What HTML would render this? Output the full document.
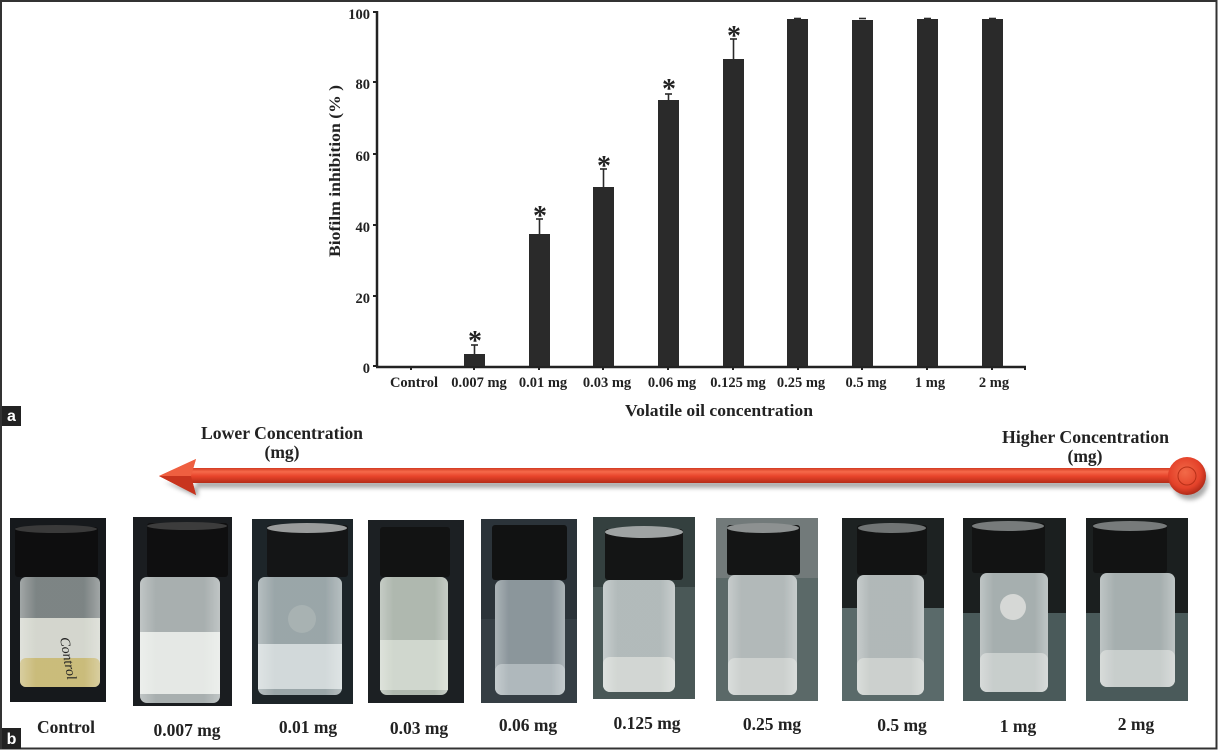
<!DOCTYPE html>
<html><head><meta charset="utf-8"><style>
html,body{margin:0;padding:0;background:#fff;}
svg{display:block;}
text{font-family:"Liberation Serif","Times New Roman",serif;font-weight:bold;fill:#222;}
</style></head><body>
<svg width="1218" height="750" viewBox="0 0 1218 750" xmlns="http://www.w3.org/2000/svg">
<defs>
<linearGradient id="shaft" x1="0" y1="0" x2="0" y2="1">
<stop offset="0" stop-color="#d23a22"/><stop offset="0.25" stop-color="#f5694a"/><stop offset="0.55" stop-color="#e8442a"/><stop offset="1" stop-color="#b42c18"/>
</linearGradient>
<linearGradient id="head" x1="0" y1="0" x2="0" y2="1">
<stop offset="0" stop-color="#f06a48"/><stop offset="0.5" stop-color="#e8442a"/><stop offset="1" stop-color="#b02a16"/>
</linearGradient>
<radialGradient id="ball" cx="0.45" cy="0.4" r="0.6">
<stop offset="0" stop-color="#f26a48"/><stop offset="0.7" stop-color="#e4422a"/><stop offset="1" stop-color="#b02a18"/>
</radialGradient>
<filter id="sh" x="-0.1" y="-0.5" width="1.2" height="2"><feGaussianBlur stdDeviation="2"/></filter>
<linearGradient id="glass" x1="0" y1="0" x2="1" y2="0">
<stop offset="0" stop-color="#fff" stop-opacity="0.35"/><stop offset="0.2" stop-color="#fff" stop-opacity="0.1"/><stop offset="0.8" stop-color="#fff" stop-opacity="0.1"/><stop offset="1" stop-color="#fff" stop-opacity="0.35"/>
</linearGradient>
</defs>

<!-- frame -->
<rect x="1" y="1" width="1215.5" height="747.5" fill="none" stroke="#333" stroke-width="2"/>

<!-- ============ CHART ============ -->
<g stroke="#222" stroke-width="2.5" fill="none">
<line x1="377" y1="11" x2="377" y2="367"/>
<line x1="376" y1="367" x2="1026" y2="367"/>
</g>
<g stroke="#222" stroke-width="2">
<line x1="373" y1="12" x2="377" y2="12"/>
<line x1="373" y1="82" x2="377" y2="82"/>
<line x1="373" y1="154" x2="377" y2="154"/>
<line x1="373" y1="225" x2="377" y2="225"/>
<line x1="373" y1="296" x2="377" y2="296"/>
<line x1="373" y1="366" x2="377" y2="366"/>
<line x1="411" y1="367" x2="411" y2="370"/>
<line x1="474" y1="367" x2="474" y2="370"/>
<line x1="539" y1="367" x2="539" y2="370"/>
<line x1="603" y1="367" x2="603" y2="370"/>
<line x1="668" y1="367" x2="668" y2="370"/>
<line x1="733" y1="367" x2="733" y2="370"/>
<line x1="798" y1="367" x2="798" y2="370"/>
<line x1="862" y1="367" x2="862" y2="370"/>
<line x1="927" y1="367" x2="927" y2="370"/>
<line x1="992" y1="367" x2="992" y2="370"/>
<line x1="1025" y1="367" x2="1025" y2="370"/>
</g>
<g font-size="14.5" text-anchor="end">
<text x="370" y="19">100</text>
<text x="370" y="89">80</text>
<text x="370" y="161">60</text>
<text x="370" y="232">40</text>
<text x="370" y="303">20</text>
<text x="370" y="373">0</text>
</g>
<!-- bars -->
<g fill="#2a2a2a">
<rect x="464" y="354" width="21" height="12"/>
<rect x="529" y="234" width="21" height="132"/>
<rect x="593" y="187" width="21" height="179"/>
<rect x="658" y="100" width="21" height="266"/>
<rect x="723" y="59" width="21" height="307"/>
<rect x="787" y="19" width="21" height="347"/>
<rect x="852" y="20" width="21" height="346"/>
<rect x="917" y="19" width="21" height="347"/>
<rect x="982" y="19" width="21" height="347"/>
</g>
<!-- error bars -->
<g stroke="#2a2a2a" stroke-width="1.6">
<line x1="474.5" y1="354" x2="474.5" y2="345"/><line x1="471" y1="345" x2="478" y2="345"/>
<line x1="539.5" y1="234" x2="539.5" y2="219"/><line x1="536" y1="219" x2="543" y2="219"/>
<line x1="603.5" y1="187" x2="603.5" y2="169"/><line x1="600" y1="169" x2="607" y2="169"/>
<line x1="668.5" y1="100" x2="668.5" y2="94"/><line x1="665" y1="94" x2="672" y2="94"/>
<line x1="733.5" y1="59" x2="733.5" y2="39"/><line x1="730" y1="39" x2="737" y2="39"/>
<line x1="794" y1="18.5" x2="801" y2="18.5"/>
<line x1="859" y1="18.5" x2="866" y2="18.5"/>
<line x1="924" y1="18.5" x2="931" y2="18.5"/>
<line x1="989" y1="18.5" x2="996" y2="18.5"/>
</g>
<g font-size="28" text-anchor="middle">
<text x="475" y="350">*</text>
<text x="540" y="225">*</text>
<text x="604" y="175">*</text>
<text x="669" y="98">*</text>
<text x="734" y="45">*</text>
</g>
<g font-size="14.5" text-anchor="middle">
<text x="414" y="387">Control</text>
<text x="479" y="387">0.007 mg</text>
<text x="543" y="387">0.01 mg</text>
<text x="607" y="387">0.03 mg</text>
<text x="672" y="387">0.06 mg</text>
<text x="738" y="387">0.125 mg</text>
<text x="801" y="387">0.25 mg</text>
<text x="866" y="387">0.5 mg</text>
<text x="930" y="387">1 mg</text>
<text x="994" y="387">2 mg</text>
</g>
<text x="719" y="416" font-size="16.5" text-anchor="middle" textLength="188" lengthAdjust="spacingAndGlyphs">Volatile oil concentration</text>
<text transform="translate(340,171) rotate(-90)" font-size="16" text-anchor="middle" textLength="172" lengthAdjust="spacingAndGlyphs">Biofilm inhibition (% )</text>

<!-- panel labels -->
<rect x="2" y="406" width="19" height="20" fill="#222"/>
<text x="11.5" y="421" font-size="16" style="fill:#fff;font-family:'Liberation Sans',sans-serif" text-anchor="middle">a</text>
<rect x="2" y="728" width="19" height="21" fill="#222"/>
<text x="11.5" y="744" font-size="16" style="fill:#fff;font-family:'Liberation Sans',sans-serif" text-anchor="middle">b</text>

<!-- ============ ARROW ============ -->
<g font-size="17.5" text-anchor="middle">
<text x="282" y="439" textLength="162" lengthAdjust="spacingAndGlyphs">Lower Concentration</text>
<text x="282" y="458">(mg)</text>
<text x="1085.5" y="443" textLength="167" lengthAdjust="spacingAndGlyphs">Higher Concentration</text>
<text x="1085" y="462">(mg)</text>
</g>
<g filter="url(#sh)" fill="#888" opacity="0.7">
<rect x="196" y="481" width="980" height="7"/>
<polygon points="164,482 198,497 198,488"/>
<circle cx="1190" cy="482" r="18"/>
</g>
<rect x="190" y="468" width="985" height="15" fill="url(#shaft)"/>
<polygon points="159,476 196,459 191,476 196,495" fill="url(#head)"/>
<polygon points="159,476 191,476 196,495" fill="#c8341e"/>
<polygon points="159,476 196,459 191,476" fill="#ef5f40"/>
<circle cx="1187" cy="476" r="19" fill="url(#ball)"/>
<circle cx="1187" cy="476" r="9" fill="none" stroke="#b83018" stroke-width="1"/>

<!-- ============ PHOTOS ============ -->
<!-- Control -->
<g transform="translate(10,518)">
<rect width="96" height="184" fill="#16191c"/>
<rect x="10" y="59" width="80" height="110" rx="6" fill="#6f7777"/>
<rect x="10" y="100" width="80" height="45" fill="#cfd2c8"/>
<rect x="10" y="140" width="80" height="29" rx="6" fill="#c4b46c"/>
<rect x="10" y="59" width="80" height="110" rx="6" fill="url(#glass)"/>
<rect x="5" y="9" width="83" height="50" rx="3" fill="#0e0e0f"/>
<ellipse cx="46" cy="11" rx="41" ry="4" fill="#3a3a3a"/>
<text x="50" y="120" font-size="14" transform="rotate(80 50 120)" style="fill:#222;font-family:'Liberation Serif';font-style:italic;font-weight:normal">Control</text>
</g>
<!-- 0.007 -->
<g transform="translate(133,517)">
<rect width="99" height="189" fill="#1a1d20"/>
<rect x="7" y="60" width="80" height="126" rx="7" fill="#9ea6a6"/>
<rect x="7" y="115" width="80" height="62" fill="#e2e6e2"/>
<rect x="7" y="60" width="80" height="126" rx="7" fill="url(#glass)"/>
<rect x="14" y="6" width="81" height="54" rx="3" fill="#0f0f10"/>
<ellipse cx="54" cy="9" rx="40" ry="4" fill="#3c3c3c"/>
</g>
<!-- 0.01 -->
<g transform="translate(252,519)">
<rect width="101" height="185" fill="#1d2529"/>
<rect x="6" y="58" width="84" height="118" rx="7" fill="#8f9c9f"/>
<rect x="6" y="125" width="84" height="45" fill="#cdd5d6"/>
<rect x="6" y="58" width="84" height="118" rx="7" fill="url(#glass)"/>
<circle cx="50" cy="100" r="14" fill="#a8b2b2"/>
<rect x="15" y="6" width="81" height="52" rx="3" fill="#141516"/>
<ellipse cx="55" cy="9" rx="40" ry="5" fill="#9a9c9c"/>
</g>
<!-- 0.03 -->
<g transform="translate(368,520)">
<rect width="96" height="183" fill="#1c2023"/>
<rect x="12" y="57" width="68" height="118" rx="7" fill="#a6b0a6"/>
<rect x="12" y="120" width="68" height="50" fill="#cbd3c8"/>
<rect x="12" y="57" width="68" height="118" rx="7" fill="url(#glass)"/>
<rect x="12" y="7" width="70" height="50" rx="3" fill="#121313"/>
</g>
<!-- 0.06 -->
<g transform="translate(481,519)">
<rect width="96" height="184" fill="#2b3339"/>
<rect x="0" y="100" width="96" height="84" fill="#353e44"/>
<rect x="14" y="61" width="70" height="115" rx="7" fill="#7e8a90"/>
<rect x="14" y="145" width="70" height="31" rx="7" fill="#a6b0b4"/>
<rect x="14" y="61" width="70" height="115" rx="7" fill="url(#glass)"/>
<rect x="11" y="6" width="75" height="55" rx="3" fill="#111212"/>
</g>
<!-- 0.125 -->
<g transform="translate(593,517)">
<rect width="102" height="182" fill="#4a5857"/>
<rect width="102" height="70" fill="#34403f"/>
<rect x="10" y="63" width="72" height="112" rx="7" fill="#aab3b3"/>
<rect x="10" y="140" width="72" height="35" rx="7" fill="#cdd2ce"/>
<rect x="10" y="63" width="72" height="112" rx="7" fill="url(#glass)"/>
<rect x="12" y="12" width="78" height="51" rx="3" fill="#141515"/>
<ellipse cx="51" cy="15" rx="39" ry="6" fill="#9fa3a3"/>
</g>
<!-- 0.25 -->
<g transform="translate(716,518)">
<rect width="102" height="183" fill="#5b6968"/>
<rect width="102" height="60" fill="#727a7a"/>
<rect x="12" y="57" width="69" height="120" rx="7" fill="#a9b1b1"/>
<rect x="12" y="140" width="69" height="37" rx="7" fill="#c6cbc8"/>
<rect x="12" y="57" width="69" height="120" rx="7" fill="url(#glass)"/>
<rect x="11" y="7" width="73" height="50" rx="3" fill="#141515"/>
<ellipse cx="47" cy="10" rx="36" ry="5" fill="#8d9191"/>
</g>
<!-- 0.5 -->
<g transform="translate(842,518)">
<rect width="102" height="183" fill="#5a6a6a"/>
<rect width="102" height="90" fill="#1d2222"/>
<rect x="15" y="57" width="67" height="120" rx="7" fill="#a8b0b0"/>
<rect x="15" y="140" width="67" height="37" rx="7" fill="#c6cbc8"/>
<rect x="15" y="57" width="67" height="120" rx="7" fill="url(#glass)"/>
<rect x="15" y="7" width="70" height="50" rx="3" fill="#121313"/>
<ellipse cx="50" cy="10" rx="34" ry="5" fill="#707474"/>
</g>
<!-- 1 mg -->
<g transform="translate(963,518)">
<rect width="103" height="183" fill="#4a5a5a"/>
<rect width="103" height="95" fill="#1b1f1f"/>
<rect x="17" y="55" width="68" height="119" rx="7" fill="#9ca6a6"/>
<rect x="17" y="135" width="68" height="39" rx="7" fill="#c2c8c6"/>
<rect x="17" y="55" width="68" height="119" rx="7" fill="url(#glass)"/>
<circle cx="50" cy="89" r="13" fill="#d6d8d6"/>
<rect x="9" y="5" width="73" height="50" rx="3" fill="#121313"/>
<ellipse cx="45" cy="8" rx="36" ry="5" fill="#777b7b"/>
</g>
<!-- 2 mg -->
<g transform="translate(1086,518)">
<rect width="102" height="183" fill="#4a5a5a"/>
<rect width="102" height="95" fill="#1b1f1f"/>
<rect x="14" y="55" width="75" height="114" rx="7" fill="#9ca6a6"/>
<rect x="14" y="132" width="75" height="37" rx="7" fill="#c2c8c6"/>
<rect x="14" y="55" width="75" height="114" rx="7" fill="url(#glass)"/>
<rect x="7" y="5" width="74" height="50" rx="3" fill="#121313"/>
<ellipse cx="44" cy="8" rx="37" ry="5" fill="#777b7b"/>
</g>

<!-- photo labels -->
<g font-size="17.5" text-anchor="middle">
<text x="66" y="733">Control</text>
<text x="187" y="736">0.007 mg</text>
<text x="308" y="733">0.01 mg</text>
<text x="419" y="734">0.03 mg</text>
<text x="528" y="731">0.06 mg</text>
<text x="647" y="729">0.125 mg</text>
<text x="772" y="730">0.25 mg</text>
<text x="902" y="731">0.5 mg</text>
<text x="1018" y="732">1 mg</text>
<text x="1136" y="730">2 mg</text>
</g>
</svg>
</body></html>
